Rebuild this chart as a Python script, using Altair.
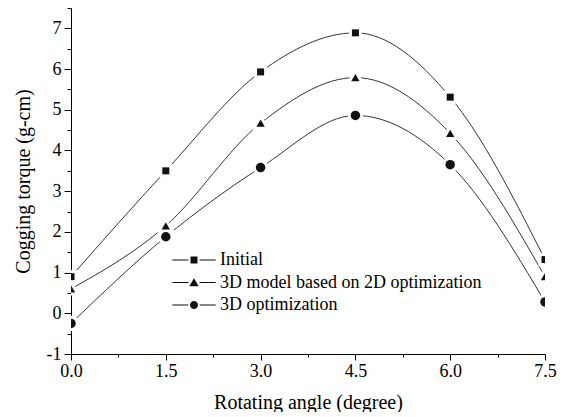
import altair as alt
import pandas as pd

angles = [0.0, 1.5, 3.0, 4.5, 6.0, 7.5]
series_names = ["Initial", "3D model based on 2D optimization", "3D optimization"]
initial = [0.9, 3.5, 5.93, 6.89, 5.31, 1.32]
model_2d = [0.6, 2.15, 4.67, 5.79, 4.42, 0.9]
opt_3d = [-0.25, 1.88, 3.58, 4.86, 3.65, 0.28]

rows = []
for name, vals in zip(series_names, [initial, model_2d, opt_3d]):
    for a, v in zip(angles, vals):
        rows.append({"angle": a, "torque": v, "series": name, "legend": name})
df = pd.DataFrame(rows)

FONT = "Liberation Serif"
y_vals = [i * 0.5 for i in range(-2, 16)]
x_vals = [i * 0.75 for i in range(0, 11)]

x_enc = alt.X(
    "angle:Q",
    scale=alt.Scale(domain=[0, 7.5], nice=False, zero=False),
    axis=alt.Axis(
        title="Rotating angle (degree)",
        values=x_vals,
        labelExpr="(round(datum.value * 100) % 150 === 0) ? format(datum.value, '.1f') : ''",
        tickSize={"condition": {"test": "round(datum.value * 100) % 150 !== 0", "value": 3}, "value": 6},
        grid=False,
        domainColor="black",
        tickColor="black",
        labelColor="black",
        titleColor="black",
        labelFont=FONT,
        titleFont=FONT,
        labelFontSize=18,
        titleFontSize=20,
        titleFontWeight="normal",
        labelPadding=2,
        titlePadding=12,
        labelFlush=False,
    ),
)
y_enc = alt.Y(
    "torque:Q",
    scale=alt.Scale(domain=[-1, 7.5], nice=False, zero=False),
    axis=alt.Axis(
        title="Cogging torque (g-cm)",
        values=y_vals,
        labelExpr="(datum.value % 1 === 0) ? ('' + datum.value) : ''",
        tickSize={"condition": {"test": "datum.value % 1 !== 0", "value": 4}, "value": 7},
        grid=False,
        domainColor="black",
        tickColor="black",
        labelColor="black",
        titleColor="black",
        labelFont=FONT,
        titleFont=FONT,
        labelFontSize=18,
        titleFontSize=20,
        titleFontWeight="normal",
        labelPadding=3,
        titlePadding=13,
    ),
)

shape_scale = alt.Scale(domain=series_names, range=["square", "triangle-up", "circle"])
size_front = alt.Scale(domain=series_names, range=[49, 90, 64])

base = alt.Chart(df)

lines = base.mark_line(interpolate="monotone", color="#333333", strokeWidth=1, clip=True).encode(
    x=x_enc, y=y_enc, detail="series:N"
)
halo = base.mark_point(
    filled=True, fill="white", stroke="white", strokeWidth=6, opacity=1, clip=True
).encode(
    x=x_enc, y=y_enc,
    shape=alt.Shape("series:N", scale=shape_scale, legend=None),
    size=alt.Size("series:N", scale=size_front, legend=None),
)
markers = base.mark_point(filled=True, color="#111111", opacity=1, clip=True).encode(
    x=x_enc, y=y_enc,
    shape=alt.Shape("series:N", scale=shape_scale, legend=None),
    size=alt.Size("series:N", scale=size_front, legend=None),
)

seg = "M-6.2,-0.15H-1.6V0.15H-6.2ZM1.6,-0.15H6.2V0.15H1.6Z"
leg_paths = [
    seg + "M-1,-1H1V1H-1Z",
    seg + "M0,-1.25L1.35,1.1L-1.35,1.1Z",
    seg + "M1.15,0A1.15,1.15 0 1,1 -1.15,0A1.15,1.15 0 1,1 1.15,0Z",
]
legend_layer = base.mark_point(filled=True, color="#111111", opacity=0).encode(
    x=x_enc, y=y_enc,
    shape=alt.Shape(
        "legend:N",
        scale=alt.Scale(domain=series_names, range=leg_paths),
        legend=alt.Legend(
            title=None,
            orient="none",
            legendX=114,
            legendY=243,
            symbolSize=49,
            symbolOpacity=1,
            symbolFillColor="#111111",
            symbolStrokeWidth=0,
            labelFont=FONT,
            labelFontSize=18,
            labelColor="black",
            labelOffset=17,
            rowPadding=4.5,
            padding=0,
            labelLimit=400,
        ),
    ),
)

chart = (
    alt.layer(lines, halo, markers, legend_layer)
    .resolve_scale(shape="independent", size="independent")
    .properties(
        width=474,
        height=346,
        autosize=alt.AutoSizeParams(type="none"),
        padding={"left": 63, "top": 0, "right": 13, "bottom": 58},
    )
    .configure_view(stroke=None)
    .configure_axis(domainWidth=1, tickWidth=1)
)

chart.save("out.html", embed_options={"renderer": "svg", "actions": False})
